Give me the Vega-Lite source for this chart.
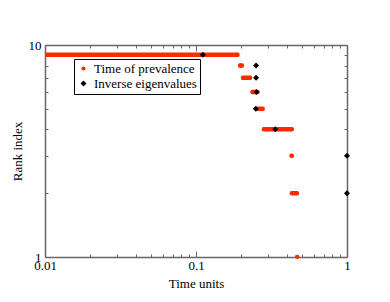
{
  "$schema": "https://vega.github.io/schema/vega-lite/v6.json",
  "width": 302,
  "height": 212,
  "autosize": {"type": "none"},
  "padding": {"left": 45, "top": 45, "right": 43, "bottom": 45},
  "background": "white",
  "config": {
    "view": {"stroke": null},
    "font": "Liberation Serif",
    "axis": {
      "labelFont": "Liberation Serif",
      "titleFont": "Liberation Serif",
      "labelFontSize": 13,
      "titleFontSize": 13,
      "titleFontWeight": "normal",
      "labelColor": "black",
      "titleColor": "black",
      "domainColor": "#666666",
      "tickColor": "#666666",
      "domainWidth": 1.5,
      "tickWidth": 1,
      "grid": false
    }
  },
  "datasets": {
    "prev": [
      {"rank": 9, "t_start": 0.01, "t_end": 0.188},
      {"rank": 8, "t_start": 0.196, "t_end": 0.201},
      {"rank": 7, "t_start": 0.205, "t_end": 0.228},
      {"rank": 6, "t_start": 0.237, "t_end": 0.255},
      {"rank": 5, "t_start": 0.256, "t_end": 0.276},
      {"rank": 4, "t_start": 0.282, "t_end": 0.43},
      {"rank": 3, "t_start": 0.43, "t_end": 0.43},
      {"rank": 2, "t_start": 0.432, "t_end": 0.465},
      {"rank": 1, "t_start": 0.468, "t_end": 0.468}
    ],
    "pts": [
      {"series": "Time of prevalence", "rank": 9, "t": 0.188},
      {"series": "Time of prevalence", "rank": 8, "t": 0.196},
      {"series": "Time of prevalence", "rank": 8, "t": 0.201},
      {"series": "Time of prevalence", "rank": 7, "t": 0.205},
      {"series": "Time of prevalence", "rank": 7, "t": 0.228},
      {"series": "Time of prevalence", "rank": 6, "t": 0.237},
      {"series": "Time of prevalence", "rank": 6, "t": 0.255},
      {"series": "Time of prevalence", "rank": 5, "t": 0.256},
      {"series": "Time of prevalence", "rank": 5, "t": 0.276},
      {"series": "Time of prevalence", "rank": 4, "t": 0.282},
      {"series": "Time of prevalence", "rank": 4, "t": 0.43},
      {"series": "Time of prevalence", "rank": 3, "t": 0.43},
      {"series": "Time of prevalence", "rank": 2, "t": 0.432},
      {"series": "Time of prevalence", "rank": 2, "t": 0.465},
      {"series": "Time of prevalence", "rank": 1, "t": 0.468},
      {"series": "Inverse eigenvalues", "rank": 9, "t": 0.111},
      {"series": "Inverse eigenvalues", "rank": 8, "t": 0.25},
      {"series": "Inverse eigenvalues", "rank": 7, "t": 0.25},
      {"series": "Inverse eigenvalues", "rank": 6, "t": 0.251},
      {"series": "Inverse eigenvalues", "rank": 5, "t": 0.249},
      {"series": "Inverse eigenvalues", "rank": 4, "t": 0.335},
      {"series": "Inverse eigenvalues", "rank": 3, "t": 1.0},
      {"series": "Inverse eigenvalues", "rank": 2, "t": 1.0}
    ]
  },
  "resolve": {"axis": {"x": "independent", "y": "independent"}},
  "layer": [
    {
      "data": {"name": "prev"},
      "mark": {"type": "rule", "color": "#ff2a00", "strokeWidth": 4.5, "strokeCap": "round", "clip": true},
      "encoding": {
        "x": {
          "field": "t_start", "type": "quantitative",
          "scale": {"type": "log", "domain": [0.01, 1]},
          "axis": {
            "orient": "bottom",
            "title": "Time units",
            "titlePadding": 2,
            "values": [0.01,0.02,0.03,0.04,0.05,0.06,0.07,0.08,0.09,0.1,0.2,0.3,0.4,0.5,0.6,0.7,0.8,0.9,1],
            "labelExpr": "datum.value == 0.01 ? '0.01' : datum.value == 0.1 ? '0.1' : datum.value == 1 ? '1' : ''",
            "tickSize": {"condition": {"test": "datum.value == 0.01 || datum.value == 0.1 || datum.value == 1", "value": -6}, "value": -3},
            "labelPadding": 8,
            "labelFlush": false,
            "labelOverlap": false
          }
        },
        "x2": {"field": "t_end"},
        "y": {
          "field": "rank", "type": "quantitative",
          "scale": {"type": "log", "domain": [1, 10]},
          "axis": {
            "orient": "left",
            "title": "Rank index",
            "titlePadding": 4,
            "values": [1,2,3,4,5,6,7,8,9,10],
            "labelExpr": "datum.value == 1 ? '1' : datum.value == 10 ? '10' : ''",
            "tickSize": {"condition": {"test": "datum.value == 1 || datum.value == 10", "value": -6}, "value": -3},
            "labelPadding": 10,
            "labelFlush": false,
            "labelOverlap": false
          }
        }
      }
    },
    {
      "data": {"name": "pts"},
      "mark": {"type": "point", "filled": true, "opacity": 1, "clip": false},
      "encoding": {
        "x": {
          "field": "t", "type": "quantitative",
          "scale": {"type": "log", "domain": [0.01, 1]},
          "axis": {
            "orient": "top",
            "title": null,
            "values": [0.01,0.02,0.03,0.04,0.05,0.06,0.07,0.08,0.09,0.1,0.2,0.3,0.4,0.5,0.6,0.7,0.8,0.9,1],
            "labels": false,
            "tickSize": {"condition": {"test": "datum.value == 0.01 || datum.value == 0.1 || datum.value == 1", "value": -6}, "value": -3}
          }
        },
        "y": {
          "field": "rank", "type": "quantitative",
          "scale": {"type": "log", "domain": [1, 10]},
          "axis": {
            "orient": "right",
            "title": null,
            "values": [1,2,3,4,5,6,7,8,9,10],
            "labels": false,
            "tickSize": {"condition": {"test": "datum.value == 1 || datum.value == 10", "value": -6}, "value": -3}
          }
        },
        "color": {
          "field": "series", "type": "nominal",
          "scale": {"domain": ["Time of prevalence", "Inverse eigenvalues"], "range": ["#ff2a00", "black"]},
          "legend": {
            "title": null,
            "orient": "none",
            "legendX": 29,
            "legendY": 14,
            "strokeColor": "black",
            "fillColor": "white",
            "padding": 3,
            "labelFont": "Liberation Serif",
            "labelFontSize": 13,
            "labelColor": "black",
            "symbolSize": 20,
            "rowPadding": 1
          }
        },
        "shape": {
          "field": "series", "type": "nominal",
          "scale": {"domain": ["Time of prevalence", "Inverse eigenvalues"], "range": ["circle", "diamond"]},
          "legend": null
        },
        "size": {
          "field": "series", "type": "nominal",
          "scale": {"domain": ["Time of prevalence", "Inverse eigenvalues"], "range": [18, 36]},
          "legend": null
        }
      }
    }
  ]
}
